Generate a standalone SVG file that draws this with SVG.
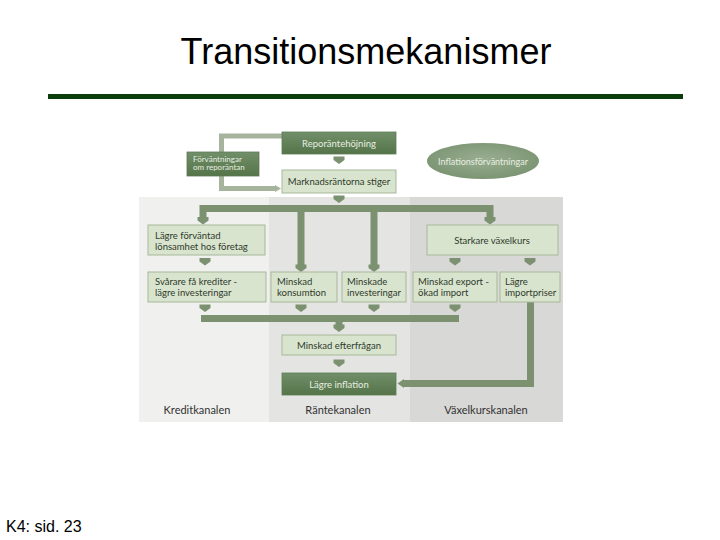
<svg xmlns="http://www.w3.org/2000/svg" width="720" height="540" viewBox="0 0 720 540">
<defs>
<style>
.title{font-family:"Liberation Sans",Arial,sans-serif;font-size:36px;fill:#000}
.foot{font-family:"Liberation Sans",Arial,sans-serif;font-size:16px;fill:#000}
.dark{fill:url(#gDark);stroke:#5c7a54;stroke-width:0.8}
.light{fill:#d9e4cf;stroke:#a7b79a;stroke-width:1}
.t{font-family:Lato,"Liberation Sans",sans-serif;font-size:9.5px;fill:#2e3a2a}
.tl{font-family:Lato,"Liberation Sans",sans-serif;font-size:9.5px;fill:#e6eee0}
.ts{font-family:Lato,"Liberation Sans",sans-serif;font-size:8px;fill:#e6eee0}
.lab{font-family:Lato,"Liberation Sans",sans-serif;font-size:11px;fill:#333}
.c{fill:none;stroke:#7b9170;stroke-width:7}
.cf{fill:none;stroke:#a7b49d;stroke-width:5}
.ah{fill:#7b9170}
</style>
<linearGradient id="gDark" x1="0" y1="0" x2="0" y2="1">
<stop offset="0" stop-color="#718f69"/>
<stop offset="1" stop-color="#557449"/>
</linearGradient>
<radialGradient id="gEll" cx="0.5" cy="0.45" r="0.6">
<stop offset="0" stop-color="#9aae92"/>
<stop offset="1" stop-color="#78926f"/>
</radialGradient>
<path id="arrow" d="M-5.5,0 H5.5 V3.5 L0,7.5 L-5.5,3.5 Z"/>
</defs>
<rect width="720" height="540" fill="#fff"/>
<text class="title" x="366" y="64" text-anchor="middle">Transitionsmekanismer</text>
<rect x="48" y="94" width="635" height="5" fill="#0b3d0b"/>
<g id="panels">
<rect x="139" y="197" width="130" height="225" fill="#f0f0ee"/>
<rect x="269" y="197" width="141" height="225" fill="#e4e4e2"/>
<rect x="410" y="197" width="153" height="225" fill="#d8d8d6"/>
<text class="lab" x="197" y="414" text-anchor="middle">Kreditkanalen</text>
<text class="lab" x="338" y="414" text-anchor="middle">Räntekanalen</text>
<text class="lab" x="486" y="414" text-anchor="middle">Växelkurskanalen</text>
</g>
<g id="connectors">
<path class="cf" d="M283,136 H221.5 V152"/>
<path class="cf" d="M221.5,176 V188.5 H276"/>
<path d="M275,185 L281,188.5 L275,192 Z" fill="#a7b49d"/>
<use href="#arrow" class="ah" x="339" y="156.5"/>
<use href="#arrow" class="ah" x="339" y="195.5"/>
<path class="c" d="M203,219 V208.5 H490 V219"/>
<path class="c" d="M301,208.5 V266"/>
<path class="c" d="M374,208.5 V266"/>
<use href="#arrow" class="ah" x="203" y="217"/>
<use href="#arrow" class="ah" x="490" y="217"/>
<use href="#arrow" class="ah" x="301" y="264.5"/>
<use href="#arrow" class="ah" x="374" y="264.5"/>
<use href="#arrow" class="ah" x="205" y="258"/>
<use href="#arrow" class="ah" x="455" y="258"/>
<use href="#arrow" class="ah" x="530" y="258"/>
<use href="#arrow" class="ah" x="205" y="304.5"/>
<use href="#arrow" class="ah" x="301" y="304.5"/>
<use href="#arrow" class="ah" x="374" y="304.5"/>
<use href="#arrow" class="ah" x="455" y="304.5"/>
<path class="c" d="M201,318.5 H459"/>
<path class="c" d="M339,318.5 V326"/>
<use href="#arrow" class="ah" x="339" y="324.5"/>
<use href="#arrow" class="ah" x="339" y="359.5"/>
<path class="c" d="M530.5,302 V383.5 H403"/>
<path d="M404,379 L397.5,383.5 L404,388 Z" class="ah"/>
</g>
<g id="n-repo">
<rect class="dark" x="282" y="132" width="114" height="22"/>
<text class="tl" x="339" y="146.5" text-anchor="middle">Reporäntehöjning</text>
</g>
<g id="n-forv">
<rect class="dark" x="187" y="152" width="72" height="24"/>
<text class="ts" x="193" y="161.5">Förväntningar</text>
<text class="ts" x="193" y="170">om reporäntan</text>
</g>
<g id="n-infl-forv">
<ellipse cx="483" cy="161" rx="56" ry="18" fill="url(#gEll)"/>
<text class="tl" x="483" y="164.5" text-anchor="middle" style="font-size:9px">Inflationsförväntningar</text>
</g>
<g id="n-mark">
<rect class="light" x="282" y="170" width="114" height="23"/>
<text class="t" x="339" y="185" text-anchor="middle">Marknadsräntorna stiger</text>
</g>
<g id="n-lonsam">
<rect class="light" x="148" y="225" width="117" height="30"/>
<text class="t" x="155" y="238.5">Lägre förväntad</text>
<text class="t" x="155" y="249.5">lönsamhet hos företag</text>
</g>
<g id="n-vaxel">
<rect class="light" x="427" y="225" width="131" height="30"/>
<text class="t" x="492" y="243.5" text-anchor="middle">Starkare växelkurs</text>
</g>
<g id="n-kredit">
<rect class="light" x="148" y="272" width="118" height="30"/>
<text class="t" x="155" y="284.5">Svårare få krediter -</text>
<text class="t" x="155" y="295.5">lägre investeringar</text>
</g>
<g id="n-kons">
<rect class="light" x="271" y="272" width="66" height="30"/>
<text class="t" x="277" y="284.5">Minskad</text>
<text class="t" x="277" y="295.5">konsumtion</text>
</g>
<g id="n-inv">
<rect class="light" x="342" y="272" width="64" height="30"/>
<text class="t" x="347" y="284.5">Minskade</text>
<text class="t" x="347" y="295.5">investeringar</text>
</g>
<g id="n-export">
<rect class="light" x="413" y="272" width="84" height="30"/>
<text class="t" x="418" y="284.5">Minskad export -</text>
<text class="t" x="418" y="295.5">ökad import</text>
</g>
<g id="n-import">
<rect class="light" x="500" y="272" width="60" height="30"/>
<text class="t" x="505" y="284.5">Lägre</text>
<text class="t" x="505" y="295.5">importpriser</text>
</g>
<g id="n-efter">
<rect class="light" x="282" y="335" width="114" height="20"/>
<text class="t" x="339" y="348.5" text-anchor="middle">Minskad efterfrågan</text>
</g>
<g id="n-inflation">
<rect class="dark" x="282" y="373" width="114" height="22"/>
<text class="tl" x="339" y="387.5" text-anchor="middle">Lägre inflation</text>
</g>
<text class="foot" x="6" y="532">K4: sid. 23</text>
</svg>
